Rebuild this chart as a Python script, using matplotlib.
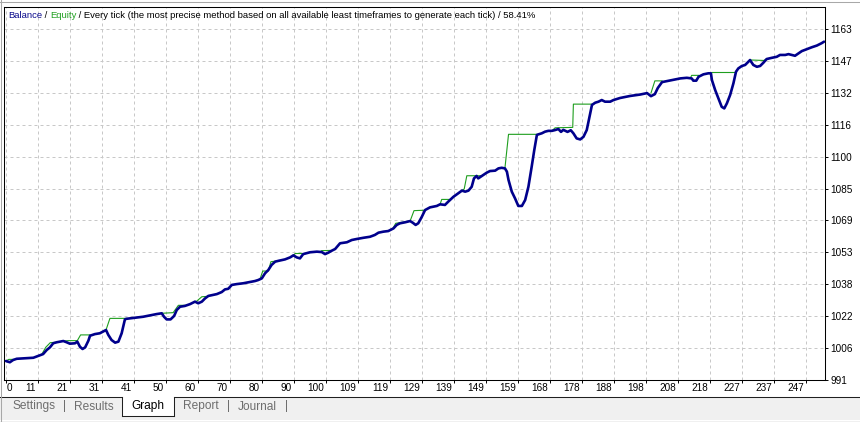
import numpy as np
import matplotlib
matplotlib.use("Agg")
import matplotlib.pyplot as plt
from matplotlib.patches import Rectangle
from matplotlib.lines import Line2D
from matplotlib.transforms import ScaledTranslation, blended_transform_factory

plt.rcParams["font.family"] = ["Liberation Sans", "DejaVu Sans"]

W, H = 860, 422

# axis labels as printed by the tester (labels are equally spaced)
x_labels = ["0", "11", "21", "31", "41", "50", "60", "70", "80", "90", "100", "109", "119",
            "129", "139", "149", "159", "168", "178", "188", "198", "208", "218", "227", "237", "247"]
y_labels = ["991", "1006", "1022", "1038", "1053", "1069", "1085", "1100", "1116", "1132", "1147", "1163"]
x_step = 9.82
y_step = 15.636

# thick blue curve: trade number / account value
curve_x = [0, 1.2, 2.2, 3.3, 8.4, 9.9, 11.4, 12.5, 13.5, 14.5, 15.6, 17.6, 18.6, 19.6, 21.2, 21.9,
           22.7, 23.5, 24.3, 25.3, 25.8, 27.3, 28.8, 30.7, 31.4, 32.4, 33.5, 34.5, 35.5, 36.5, 37.0,
           39.1, 42.1, 46.2, 47.8, 48.5, 49.3, 50.5, 51.6, 52.4, 53.4, 54.9, 56.5, 58.0, 59.0, 60.1,
           61.1, 62.1, 64.7, 66.2, 67.2, 68.2, 69.3, 70.8, 72.8, 74.4, 76.4, 77.4, 78.5, 79.5, 80.5,
           81.5, 82.6, 83.6, 85.6, 87.2, 88.2, 89.2, 90.2, 91.2, 93.3, 95.4, 96.9, 97.9, 98.9, 100.0,
           101.0, 102.5, 104.6, 106.1, 107.6, 109.7, 111.7, 113.2, 114.3, 115.8, 117.3, 118.9, 119.9,
           120.9, 122.5, 124.0, 124.8, 125.7, 126.5, 127.6, 128.6, 130.1, 132.2, 133.2, 134.7, 135.7,
           137.3, 138.8, 139.9, 140.9, 141.9, 142.9, 143.6, 144.4, 144.9, 146.0, 147.5, 148.5, 150.1,
           151.1, 152.1, 153.1, 153.7, 154.2, 155.2, 156.2, 157.2, 158.3, 159.3, 160.3, 161.3, 162.1,
           162.9, 163.4, 164.4, 165.4, 166.4, 167.5, 168.5, 169.5, 170.3, 171.0, 172.3, 173.3, 174.1,
           175.1, 176.2, 177.2, 178.2, 179.8, 180.8, 181.8, 182.8, 183.8, 185.4, 186.4, 188.4, 191.5,
           194.6, 196.7, 197.9, 199.1, 200.0, 201.3, 203.8, 206.9, 208.9, 210.4, 210.9, 211.8, 212.5,
           214.0, 215.5, 216.3, 216.6, 217.6, 218.6, 219.6, 220.4, 221.2, 222.2, 223.2, 224.0, 224.7,
           225.8, 226.8, 227.8, 228.3, 229.3, 230.4, 231.4, 232.4, 233.4, 235.0, 236.5, 237.5, 239.1,
           240.1, 241.1, 242.1, 243.2, 244.2, 245.7, 247.3, 248.8, 250.3, 251.0]
curve_y = [1000.3, 999.7, 1000.8, 1001.4, 1001.9, 1002.8, 1003.7, 1005.7, 1007.0, 1009.0, 1009.5,
           1010.1, 1009.5, 1008.8, 1009.0, 1009.8, 1007.3, 1006.2, 1007.0, 1010.3, 1012.7, 1013.5,
           1013.9, 1015.5, 1013.1, 1010.6, 1009.3, 1009.8, 1013.9, 1020.7, 1021.0, 1021.4, 1022.0,
           1023.3, 1023.7, 1022.0, 1020.7, 1020.7, 1022.4, 1025.3, 1026.9, 1027.3, 1028.2, 1029.4,
           1028.6, 1029.4, 1031.0, 1032.2, 1033.1, 1034.1, 1035.4, 1035.7, 1037.6, 1038.0, 1038.4,
           1038.9, 1039.5, 1040.0, 1040.8, 1043.3, 1044.9, 1047.4, 1049.0, 1049.4, 1050.1, 1051.1,
           1052.1, 1051.1, 1050.6, 1052.7, 1053.6, 1053.9, 1053.7, 1052.7, 1053.4, 1054.4, 1055.2,
           1058.0, 1058.5, 1059.6, 1060.1, 1060.7, 1061.2, 1062.1, 1063.2, 1063.7, 1064.0, 1065.3,
           1067.0, 1067.8, 1068.3, 1068.9, 1068.1, 1067.0, 1067.8, 1071.0, 1074.3, 1075.6, 1076.3,
           1077.1, 1076.8, 1078.4, 1080.8, 1082.5, 1083.8, 1083.3, 1083.8, 1085.7, 1089.8, 1091.0,
           1089.8, 1091.0, 1092.6, 1093.4, 1093.6, 1094.7, 1095.0, 1094.7, 1093.1, 1089.0, 1083.3,
           1080.0, 1076.3, 1076.3, 1079.2, 1085.7, 1095.5, 1103.7, 1111.1, 1111.4, 1111.9, 1112.7,
           1113.1, 1113.1, 1113.5, 1114.0, 1112.6, 1113.6, 1112.6, 1113.4, 1111.9, 1109.4, 1108.9,
           1110.2, 1113.5, 1125.8, 1126.9, 1127.4, 1128.2, 1127.4, 1127.4, 1128.2, 1129.2, 1130.2,
           1130.9, 1131.6, 1130.1, 1131.1, 1134.1, 1137.0, 1137.8, 1138.8, 1139.1, 1138.8, 1137.7,
           1137.7, 1139.6, 1140.8, 1141.3, 1141.3, 1138.0, 1133.1, 1129.0, 1124.9, 1124.1, 1126.6,
           1130.7, 1136.4, 1142.1, 1143.7, 1144.9, 1145.4, 1147.0, 1147.8, 1145.4, 1144.5, 1144.9,
           1146.5, 1148.3, 1148.9, 1149.4, 1150.3, 1150.3, 1150.7, 1150.3, 1149.9, 1151.1, 1152.2,
           1153.1, 1154.1, 1154.9, 1156.1, 1156.8]

# thin green line: only the pieces where it leaves the blue curve
step_x = [[0.3, 0.9, 2.2],
          [11.0, 12.2, 13.6, 15.6],
          [18.0, 19.1, 21.9, 22.9, 25.8],
          [30.7, 31.9, 36.8],
          [47.8, 51.3, 52.9, 54.9],
          [58.5, 60.1, 62.0],
          [77.9, 78.8, 80.5, 81.3, 83.1],
          [88.2, 88.8, 90.9],
          [96.4, 96.9, 99.5],
          [118.6, 119.6, 124.0, 125.2, 128.4],
          [133.2, 133.7, 136.4],
          [139.9, 140.6, 141.4, 146.0],
          [153.1, 154.2, 163.0],
          [167.5, 168.5, 173.9, 174.1, 179.8],
          [197.9, 199.1, 201.3],
          [210.0, 210.4, 212.5],
          [216.3, 216.6, 224.0],
          [228.3, 229.0, 232.5, 233.4]]
step_y = [[1000.6, 1001.1, 1001.1],
          [1003.6, 1007.0, 1009.3, 1009.5],
          [1010.1, 1010.3, 1010.3, 1013.1, 1013.1],
          [1015.5, 1021.2, 1021.2],
          [1023.7, 1024.0, 1027.6, 1027.6],
          [1029.6, 1031.8, 1032.0],
          [1040.3, 1044.4, 1044.4, 1049.0, 1049.3],
          [1052.1, 1053.0, 1053.0],
          [1053.8, 1054.4, 1054.5],
          [1065.0, 1067.8, 1068.9, 1074.0, 1074.2],
          [1077.1, 1079.5, 1079.5],
          [1083.8, 1084.6, 1091.1, 1091.1],
          [1094.9, 1111.4, 1111.4],
          [1113.1, 1114.6, 1114.8, 1126.2, 1126.2],
          [1131.6, 1137.6, 1137.6],
          [1139.0, 1140.3, 1140.3],
          [1141.3, 1141.7, 1141.7],
          [1147.8, 1147.8, 1147.6, 1148.3]]

header = [("Balance", "#0a0a8c"), (" / ", "black"), ("Equity", "#22a022"),
          (" / Every tick (the most precise method based on all available least timeframes to generate each tick) / 58.41%", "black")]
tabs = ["Settings", "Results", "Graph", "Report", "Journal"]

navy = "#00008c"
green = "#1e9e1e"


def fx(px):
    return px / W


def fy(py):
    return 1 - py / H


fig = plt.figure(figsize=(W / 100, H / 100), dpi=100)
fig.patch.set_facecolor("white")

# tab strip at the bottom
fig.add_artist(Rectangle((0, 0), 1, fy(397), transform=fig.transFigure, fc="#f0f0f0", ec="none", zorder=0))
fig.add_artist(Rectangle((fx(122), fy(416)), fx(173.5) - fx(122), fy(397) - fy(416),
                         transform=fig.transFigure, fc="white", ec="none", zorder=1))
for xs, ys, c in [([0, fx(122)], [fy(397)] * 2, "#202020"),
                  ([fx(173.5), 1], [fy(397)] * 2, "#202020"),
                  ([fx(122), fx(122)], [fy(397), fy(416)], "#202020"),
                  ([fx(173.5), fx(173.5)], [fy(397), fy(416)], "#202020"),
                  ([fx(122), fx(173.5)], [fy(416)] * 2, "#202020"),
                  ([0, 1], [fy(419.5)] * 2, "white"),
                  ([0, 1], [fy(1.5)] * 2, "#a8a8a8"),
                  ([fx(1), fx(1)], [0, 1], "#a8a8a8")]:
    fig.add_artist(Line2D(xs, ys, transform=fig.transFigure, color=c, lw=0.75, zorder=2))

tab_pos = [34, 93.5, 148, 201, 257]
for name, px in zip(tabs, tab_pos):
    fig.text(fx(px), fy(406.5), name, ha="center", va="center", fontsize=8.6,
             color="black" if name == "Graph" else "#6e6e6e", zorder=3)
for px in [65, 229, 287]:
    fig.text(fx(px), fy(406.5), "|", ha="center", va="center", fontsize=8.6, color="#6e6e6e", zorder=3)

# chart
ax = fig.add_axes([fx(4), fy(380), fx(825) - fx(4), fy(7) - fy(380)])
x_ticks = np.arange(len(x_labels)) * x_step
y_ticks = 991 + np.arange(len(y_labels)) * y_step

ax.grid(True, color="#c8c8c8", linestyle=(0, (3, 3)), lw=0.72)
ax.set_axisbelow(True)
for xs, ys in zip(step_x, step_y):
    ax.plot(xs, ys, color=green, lw=0.8, zorder=2)
ax.plot(curve_x, curve_y, color=navy, lw=1.9, zorder=3, solid_joinstyle="round", solid_capstyle="round")

ax.set_xlim(-0.6, 251.3)
ax.set_ylim(991, 1173.8)
ax.set_xticks(x_ticks)
ax.set_yticks(y_ticks)
ax.set_yticklabels(y_labels)
ax.yaxis.tick_right()
ax.tick_params(axis="y", direction="out", length=2.5, width=0.7, pad=1.5, labelsize=7.2)
ax.tick_params(axis="x", direction="out", length=2.5, width=0.7, labelbottom=False)
for s in ax.spines.values():
    s.set_linewidth(0.75)
    s.set_color("black")

# x labels sit just left of their tick, as in the tester
tr = blended_transform_factory(ax.transData, ax.transAxes)
for i, (pos, lab) in enumerate(zip(x_ticks, x_labels)):
    if i == 0:
        off = ScaledTranslation(0.5 / 100, -8 / 100, fig.dpi_scale_trans)
        ax.text(pos, 0, lab, transform=tr + off, ha="left", va="center", fontsize=7.2, clip_on=False)
    else:
        off = ScaledTranslation(-2 / 100, -8 / 100, fig.dpi_scale_trans)
        ax.text(pos, 0, lab, transform=tr + off, ha="right", va="center", fontsize=7.2, clip_on=False)

# header line drawn piece by piece
prev = None
for txt, col in header:
    if prev is None:
        prev = ax.annotate(txt, xy=(0, 1), xycoords="axes fraction", xytext=(4, -13),
                           textcoords="offset pixels", ha="left", va="bottom", fontsize=6.8, color=col)
    else:
        prev = ax.annotate(txt, xy=(1, 0), xycoords=prev, ha="left", va="bottom", fontsize=6.8, color=col)

fig.savefig("out.png", dpi=100)
